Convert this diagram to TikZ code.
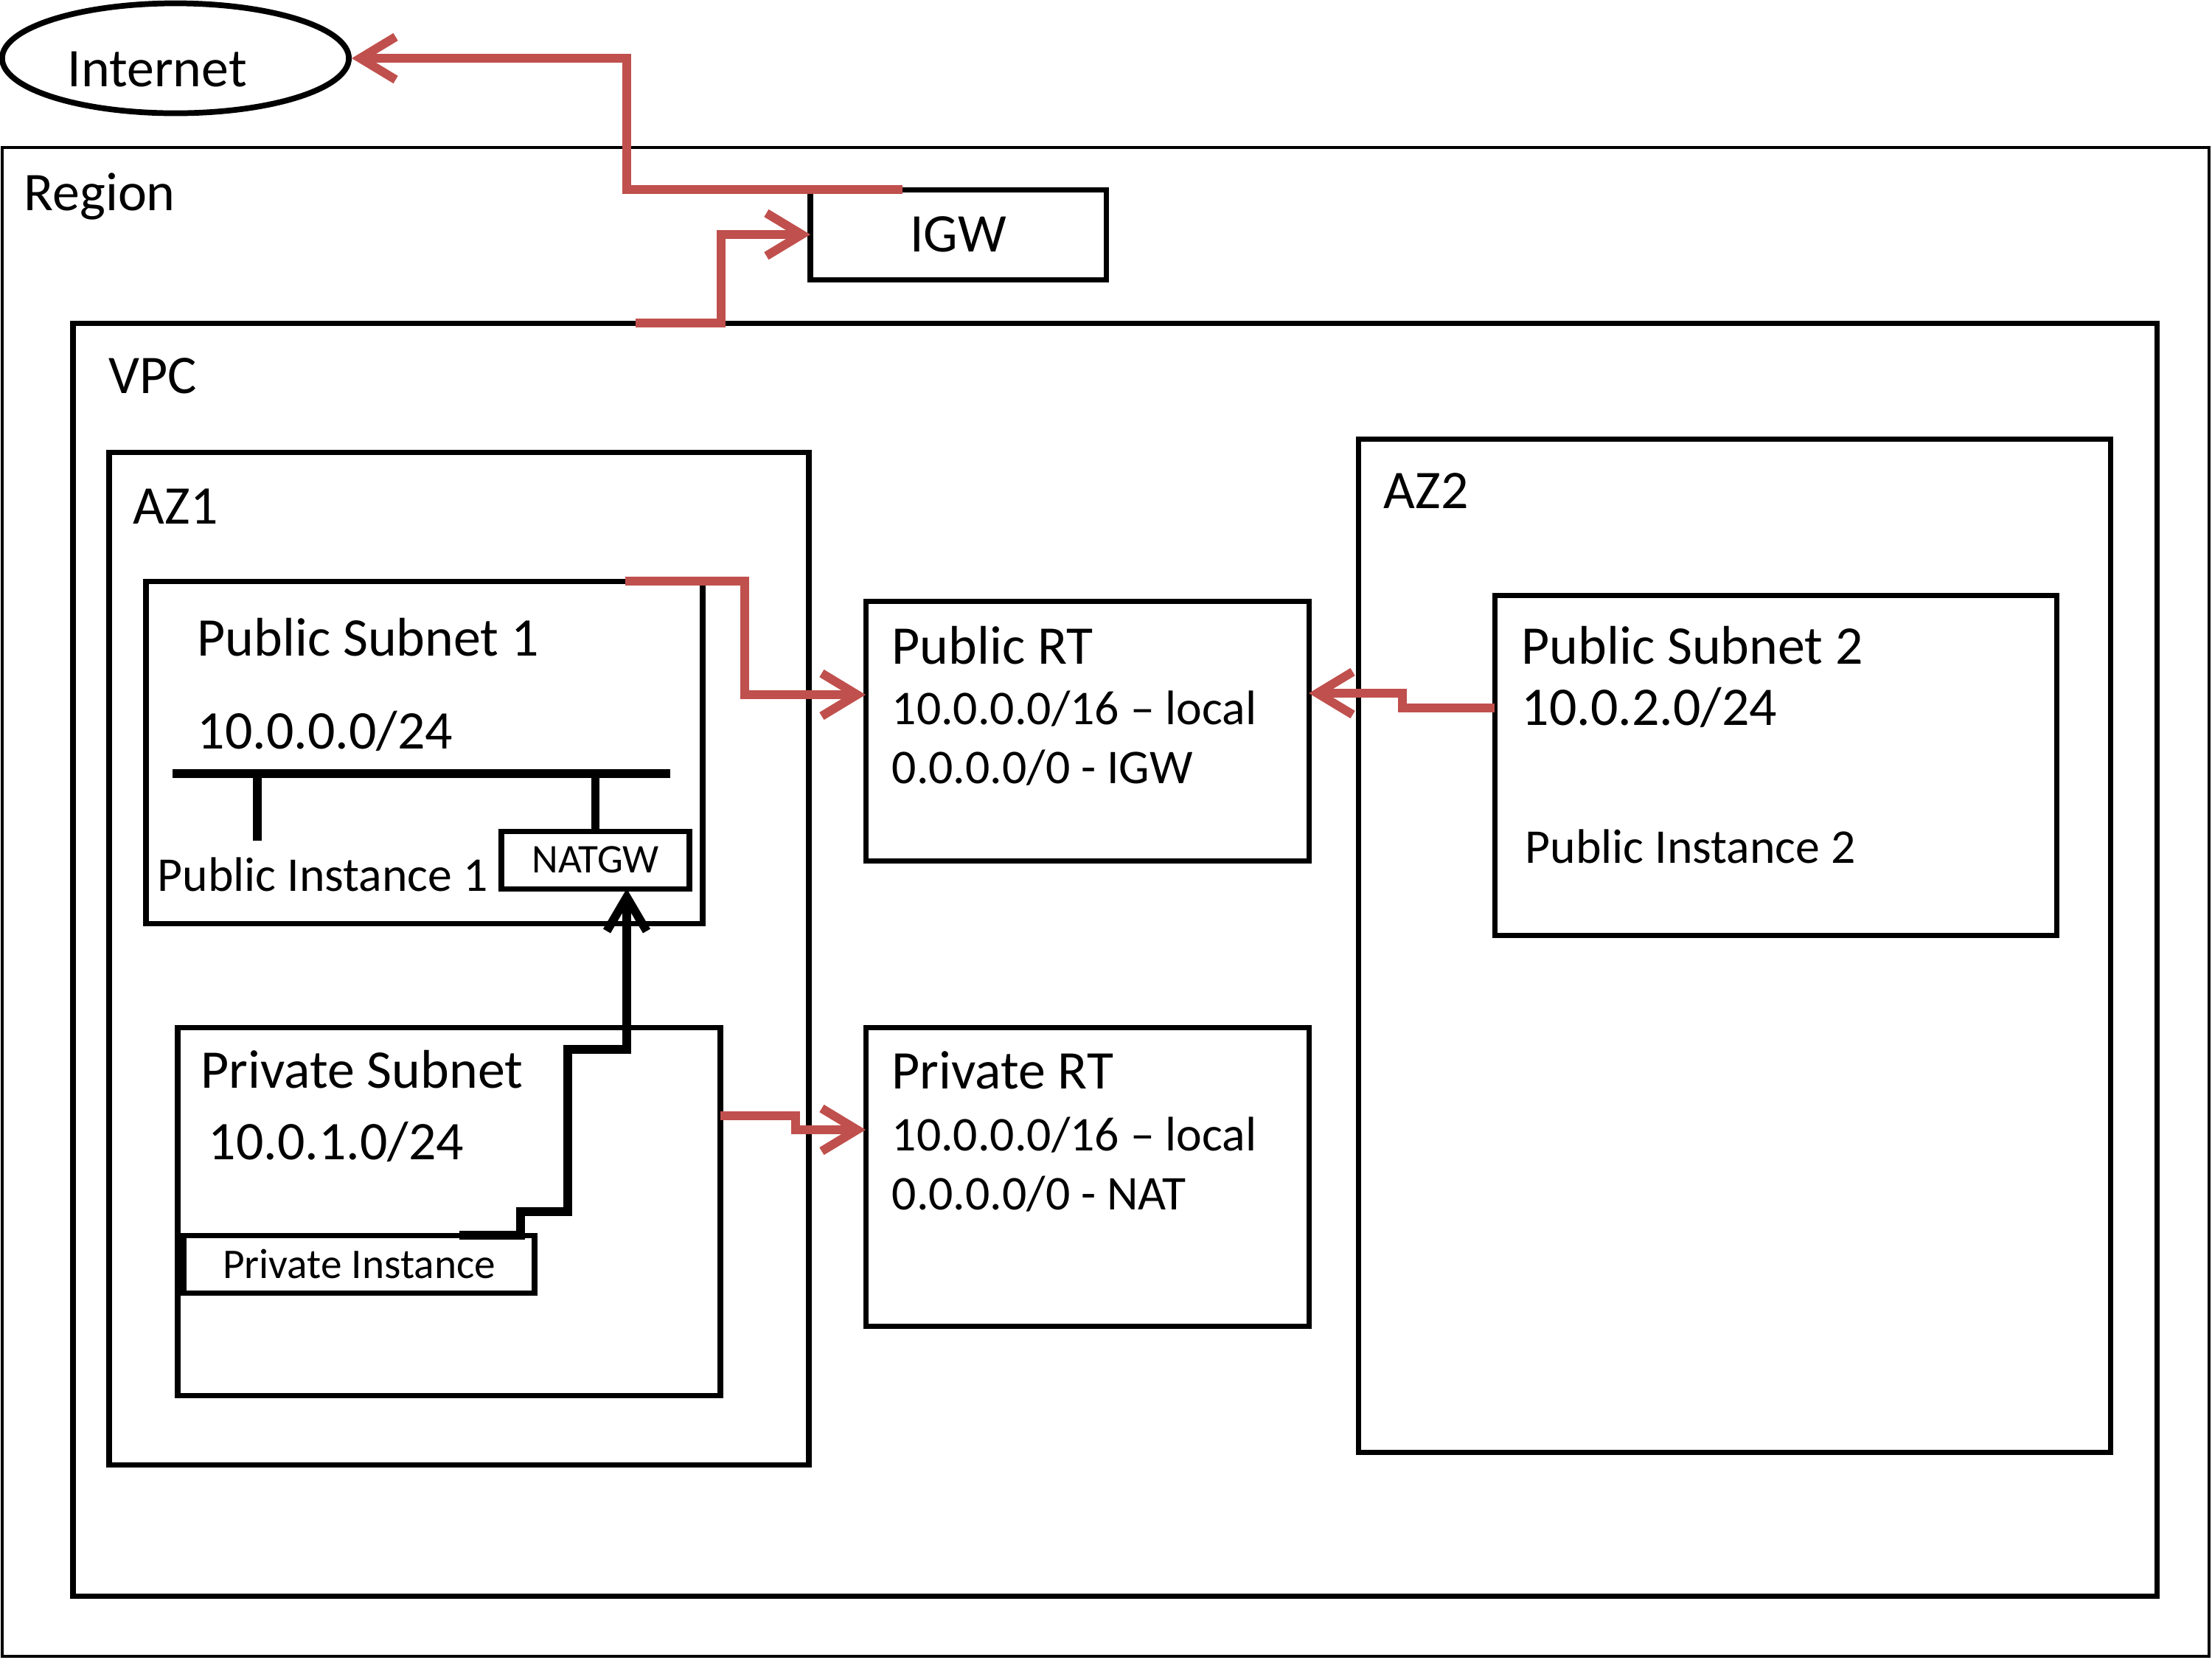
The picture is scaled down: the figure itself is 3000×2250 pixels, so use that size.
\documentclass[tikz,border=0pt]{standalone}
\usepackage{fontspec}
\setmainfont{Carlito}
\usepackage{tikz}
\usetikzlibrary{positioning, fit, calc, shapes.geometric, arrows.meta}
\tikzstyle{canvas} = [x = 0.01cm, y = -0.01cm]
\definecolor{linkColor}{RGB}{192,80,77}
\tikzstyle{zoneStyle} = [draw = black, line width = 2pt, inner sep = 0pt, outer sep = 0pt]
\tikzstyle{regionStyle} = [zoneStyle, line width = 1.1pt]
\tikzstyle{bigText} = [inner sep = 0pt, anchor = base west, font = \fontsize{21}{25}\selectfont]
\tikzstyle{midText} = [bigText, font = \fontsize{18.7}{22}\selectfont]
\tikzstyle{linkArrow} = [color = linkColor, line width = 3.4pt, -{Straight Barb[length = 4.8mm, width = 5.8mm]}]
\tikzstyle{natArrow} = [color = black, line width = 3.3pt, -{Straight Barb[length = 4.6mm, width = 5.4mm]}]
\tikzstyle{busLine} = [line width = 3.4pt]
\tikzstyle{stubLine} = [line width = 3.2pt]
\newcommand{\zone}[5]{\node [zoneStyle, fit = {(#2,#3) (#4,#5)}] (#1) {};}
\newcommand{\zoneText}[7]{\node [zoneStyle, minimum width = {(#4-#2)*0.01cm}, minimum height = {(#5-#3)*0.01cm}, font = {#6}] (#1) at ({(#2+#4)/2},{(#3+#5)/2}) {#7};}
\newcommand{\zoneLabel}[4]{\node [bigText] (#1) at (#2,#3) {#4};}
\newcommand{\zoneNote}[4]{\node [midText] (#1) at (#2,#3) {#4};}

\begin{document}
\begin{tikzpicture}[canvas]
  \useasboundingbox (0,0) rectangle (3000,2250);

  % boxes
  \node [regionStyle, fit = {(3,200) (2996,2246)}] (region) {};
  \zone{vpc}{99}{438}{2925}{2164}
  \zone{azA}{148}{613}{1097}{1986}
  \zone{azB}{1842}{595}{2862}{1969}
  \zone{subnetA}{198}{788}{953}{1252}
  \zone{subnetB}{2027}{807}{2789}{1268}
  \zone{subnetPriv}{241}{1393}{977}{1892}
  \zone{rtPub}{1174}{815}{1775}{1167}
  \zone{rtPriv}{1174}{1393}{1775}{1798}
  \zoneText{igw}{1099}{257}{1500}{379}{\fontsize{21}{25}\selectfont}{IGW}
  \zoneText{natgw}{680}{1127}{935}{1205}{\fontsize{15.7}{19}\selectfont}{NATGW}
  \zoneText{instPriv}{249}{1675}{725}{1753}{\fontsize{16.3}{19}\selectfont}{Private Instance}
  \node [ellipse, draw, line width = 2.2pt, minimum width = 4.7cm, minimum height = 1.49cm, inner sep = 0pt] (internet) at (238,79) {};

  % labels
  \zoneLabel{internetText}{91}{117}{Internet}
  \zoneLabel{regionText}{32}{285}{Region}
  \zoneLabel{vpcText}{147}{533}{VPC}
  \zoneLabel{azAText}{180}{710}{AZ1}
  \zoneLabel{azBText}{1876}{689}{AZ2}
  \zoneLabel{subnetAName}{267}{889}{Public Subnet 1}
  \zoneLabel{subnetACidr}{267}{1015}{10.0.0.0/24}
  \zoneNote{instAText}{213}{1208}{Public Instance 1}
  \zoneLabel{subnetPrivName}{272}{1475}{Private Subnet}
  \zoneLabel{subnetPrivCidr}{282}{1572}{10.0.1.0/24}
  \zoneLabel{subnetBName}{2063}{900}{Public Subnet 2}
  \zoneLabel{subnetBCidr}{2063}{983}{10.0.2.0/24}
  \zoneNote{instBText}{2068}{1170}{Public Instance 2}
  \zoneLabel{rtPubName}{1209}{900}{Public RT}
  \zoneNote{rtPubLocal}{1209}{982}{10.0.0.0/16 -- local}
  \zoneNote{rtPubDefault}{1209}{1062}{0.0.0.0/0 - IGW}
  \zoneLabel{rtPrivName}{1209}{1476}{Private RT}
  \zoneNote{rtPrivLocal}{1209}{1560}{10.0.0.0/16 -- local}
  \zoneNote{rtPrivDefault}{1209}{1640}{0.0.0.0/0 - NAT}

  % subnet bus
  \coordinate (busLeft) at (234,1049);
  \coordinate (busRight) at (909,1049);
  \coordinate (instStub) at (349,1140);
  \draw [busLine] (busLeft) -- (busRight);
  \draw [stubLine] (instStub |- busLeft) -- (instStub);
  \draw [stubLine] (natgw.north |- busLeft) -- (natgw.north);

  % routes
  \draw [linkArrow] ($(igw.north west)+(125,0)$) -- ++(-374,0) |- (internet.east);
  \draw [linkArrow] ($(vpc.north west)+(763,0)$) -- ++(116,0) |- (igw.west);
  \draw [linkArrow] ($(subnetA.north east)+(-105,0)$) -- ++(162,0) |- ($(rtPub.north west)+(0,127)$);
  \draw [linkArrow] ($(subnetB.north west)+(0,153)$) -- ++(-125,0) |- ($(rtPub.north east)+(0,125)$);
  \draw [linkArrow] ($(subnetPriv.north east)+(0,120)$) -- ++(102,0) |- ($(rtPriv.north west)+(0,139)$);
  \draw [natArrow] ($(instPriv.north west)+(374,0)$) -- ++(83,0) -- ++(0,-32) -- ++(64,0) -- ++(0,-220) -| ($(natgw.south west)+(170,0)$);
\end{tikzpicture}
\end{document}
